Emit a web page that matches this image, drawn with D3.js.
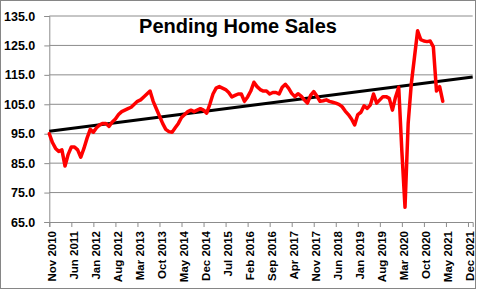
<!DOCTYPE html>
<html lang="en">
	<head>
		<meta charset="utf-8">
		<title>Pending Home Sales</title>
		<script src="https://cdn.jsdelivr.net/npm/d3@7"></script>
		<style>
			body { margin: 0; background: #fff; }
			svg text { font-family: "Liberation Sans", Arial, sans-serif; font-weight: bold; fill: #000; }
		</style>
	</head>
	<body>
		<div id="chart"></div>
		<script type="text/javascript">

		// monthly pending home sales index, Nov 2010 .. Apr 2021
		var pendingIndex = [
			95, 92, 90, 89, 89.5, 84, 88, 90.5, 90.5, 89.5,
			87, 90, 93.5, 96.5, 95.5, 97, 98, 98.5, 98.5, 97.5,
			99, 100, 101.5, 102.5, 103, 103.5, 104, 105, 106, 106.5,
			107.5, 108.5, 109.5, 106, 103.5, 101, 98.5, 96.5, 95.7, 95.5,
			97, 98.5, 100.5, 101.5, 102.5, 103, 102.5, 103, 103.5, 103,
			102, 105, 108.5, 110.5, 111, 110.5, 110, 109, 107.5, 108,
			108.5, 108.5, 106, 107.5, 109.5, 112.5, 111, 110, 109.5, 109.5,
			108.5, 109, 109, 108.5, 110.8, 111.8, 110.5, 108.7, 107.6, 108.6,
			107.8, 106.5, 105.4, 108, 109.3, 107.8, 106, 106.2, 106.5, 106,
			105.7, 105.4, 105, 104.2, 102.7, 101.5, 100, 98, 101.5, 102.3,
			104.5, 103.6, 104.8, 108.5, 105.4, 106.5, 107.6, 107.6, 107, 103,
			107.5, 110.8, 89, 70, 98.5, 112, 121, 130, 127, 126.5,
			126.3, 126.5, 124.5, 109.5, 111, 106
		];

		// trend line, read at the left and right edge of the plot
		var trendMonths = [0, 134.5];
		var trendValues = [95.8, 114.3];

		var xTickLabels = ["Nov 2010", "Jun 2011", "Jan 2012", "Aug 2012", "Mar 2013", "Oct 2013",
			"May 2014", "Dec 2014", "Jul 2015", "Feb 2016", "Sep 2016", "Apr 2017", "Nov 2017",
			"Jun 2018", "Jan 2019", "Aug 2019", "Mar 2020", "Oct 2020", "May 2021", "Dec 2021"];
		var yTicks = [65, 75, 85, 95, 105, 115, 125, 135];

		var w = 477, h = 290;
		var margin = {top: 16, right: 4.3, bottom: 68, left: 49.3};

		var svg = d3.select("#chart")
			.append("svg")
			.attr("width", w)
			.attr("height", h);

		// outer chart border
		svg.append("rect")
			.attr("x", 0.5).attr("y", 0.5)
			.attr("width", 475).attr("height", 288)
			.attr("fill", "#fff")
			.attr("stroke", "#868686");

		var x = d3.scaleLinear()
			.domain([0, 134.5])
			.range([margin.left, w - margin.right]);

		var y = d3.scaleLinear()
			.domain([65, 135])
			.range([h - margin.bottom, margin.top]);

		// horizontal gridlines
		svg.append("g")
			.selectAll("line")
			.data(yTicks.slice(1))
			.join("line")
			.attr("x1", x(0)).attr("x2", x(134.5))
			.attr("y1", function(d) { return y(d); })
			.attr("y2", function(d) { return y(d); })
			.attr("stroke", "#8c8c8c")
			.attr("stroke-width", 1);

		// y axis
		var yAxis = svg.append("g")
			.attr("transform", "translate(" + x(0) + ",0)")
			.call(d3.axisLeft(y).tickValues(yTicks).tickFormat(d3.format(".1f")).tickSize(5).tickPadding(9));
		yAxis.select(".domain").attr("stroke", "#8c8c8c");
		yAxis.selectAll(".tick line").attr("stroke", "#8c8c8c");
		yAxis.selectAll("text")
			.attr("font-size", "12.5px")
			.attr("font-family", null)
			.attr("fill", "#000");

		// x axis
		var xAxis = svg.append("g")
			.attr("transform", "translate(0," + y(65) + ")")
			.call(d3.axisBottom(x)
				.tickValues(d3.range(0, xTickLabels.length * 7, 7))
				.tickFormat(function(d, i) { return xTickLabels[i]; })
				.tickSize(5));
		xAxis.select(".domain").attr("stroke", "#8c8c8c");
		xAxis.selectAll(".tick line").attr("stroke", "#8c8c8c");
		xAxis.selectAll("text")
			.attr("font-size", "11.5px")
			.attr("font-family", null)
			.attr("fill", "#000")
			.attr("text-anchor", "end")
			.attr("transform", "rotate(-90)")
			.attr("x", -9)
			.attr("y", 0)
			.attr("dy", "0.5em");

		// trend line
		var trend = trendMonths.map(function(m, i) { return [m, trendValues[i]]; });
		svg.append("path")
			.datum(trend)
			.attr("fill", "none")
			.attr("stroke", "#000")
			.attr("stroke-width", 3)
			.attr("d", d3.line()
				.x(function(d) { return x(d[0]); })
				.y(function(d) { return y(d[1]); }));

		// index line
		svg.append("path")
			.datum(pendingIndex)
			.attr("fill", "none")
			.attr("stroke", "#ff0000")
			.attr("stroke-width", 3.5)
			.attr("stroke-linejoin", "round")
			.attr("stroke-linecap", "round")
			.attr("d", d3.line()
				.x(function(d, i) { return x(i); })
				.y(function(d) { return y(d); }));

		// title
		svg.append("text")
			.attr("x", 238)
			.attr("y", 32.5)
			.attr("text-anchor", "middle")
			.attr("font-size", "20px")
			.text("Pending Home Sales");

		</script>
	</body>
</html>
